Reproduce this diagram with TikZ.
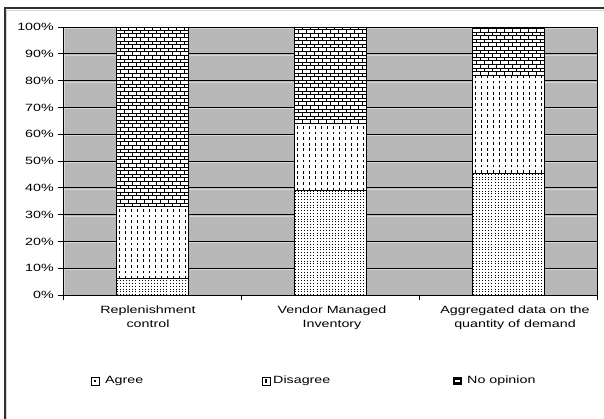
\documentclass[tikz,border=0pt]{standalone}
\usepackage{fontspec}
\newfontfamily\cf[FakeStretch=1.36]{Liberation Sans}
\definecolor{plotgrey}{HTML}{B8B8B8}
\definecolor{hlgrey}{HTML}{D6D6D6}
\definecolor{framecol}{HTML}{303030}
\newcommand\patA{%
  \foreach \k in {0,...,23} \draw[line width=0.7, dash pattern=on 0.8pt off 2pt] (\xl+1.2+3.1*\k,\ya) -- (\xl+1.2+3.1*\k,\yb);}
\newcommand\patD{%
  \foreach \k in {0,...,11} \draw[line width=0.95, dash pattern=on 2.8pt off 2.8pt] (\xl+3+6*\k,\ya) -- (\xl+3+6*\k,\yb);}
\newcommand\patN{%
  \pgfmathtruncatemacro\nr{(\ya-\yb)/3.6+1}%
  \foreach \r in {0,...,\nr} {%
    \pgfmathsetmacro\yy{\ya-3.6*\r}%
    \pgfmathsetmacro\off{mod(\r,2)*4}%
    \draw[line width=0.8] (\xl,\yy) -- (\xl+72,\yy);
    \foreach \c in {0,...,9} \draw[line width=0.8] (\xl+\off+8*\c,\yy) -- (\xl+\off+8*\c,\yy-3.6);
  }}
\newcommand\chartseg[4]{%
  \def\xl{#1}%
  \pgfmathsetmacro\ya{295-2.68*#2}%
  \pgfmathsetmacro\yb{295-2.68*#3}%
  \begin{scope}
    \clip (\xl,\yb) rectangle (\xl+72,\ya);
    \fill[white] (\xl,\yb) rectangle (\xl+72,\ya);
    \csname pat#4\endcsname
  \end{scope}
  \draw[line width=0.9] (\xl,\yb) rectangle (\xl+72,\ya);}
\begin{document}
\begin{tikzpicture}[x=1pt,y=-1pt,
  lab/.style={font=\cf\fontsize{10.5}{14}\selectfont, inner sep=0pt, text=black},
  grid/.style={line width=0.9, black},
  hl/.style={line width=1, hlgrey}]
\useasboundingbox (0,0) rectangle (604,418);
\fill[white] (0,0) rectangle (604,418);
\draw[framecol, line width=1.2] (5,420) -- (5,8) -- (606,8);
\draw[hlgrey, line width=0.8] (6.5,420) -- (6.5,10) -- (606,10);
% plot area
\fill[plotgrey] (63,27) rectangle (597,295);
\foreach \i in {0,...,9} {
  \draw[hl] (63.5,27+26.8*\i+1.4) -- (597,27+26.8*\i+1.4);
}
\draw[hl] (64.5,27) -- (64.5,295);
\foreach \i in {1,...,10} \draw[grid] (63,295-26.8*\i) -- (597,295-26.8*\i);
\draw[grid] (597,27) -- (597,295);
% bars
\chartseg{116}{0}{6}{A}
\chartseg{116}{6}{33}{D}
\chartseg{116}{33}{100}{N}
\chartseg{294}{0}{39}{A}
\chartseg{294}{39}{64}{D}
\chartseg{294}{64}{100}{N}
\chartseg{472}{0}{45.5}{A}
\chartseg{472}{45.5}{82}{D}
\chartseg{472}{82}{100}{N}
% axes
\draw[grid] (63,27) -- (63,295) -- (597,295);
\foreach \i in {0,...,10} \draw[grid] (58,295-26.8*\i) -- (63,295-26.8*\i);
\foreach \x in {63,241,419,597} \draw[grid] (\x,295) -- (\x,300);
% tick labels
\foreach \v [count=\i from 0] in {0,10,...,100}
  \node[lab, anchor=east] (tick\i) at (54,295-26.8*\i) {\v\%};
% category labels
\node[lab, align=center, anchor=north] (c1) at (148,306) {Replenishment\\control};
\node[lab, align=center, anchor=north] (c2) at (332,306) {Vendor Managed\\Inventory};
\node[lab, align=center, anchor=north] (c3) at (515,306) {Aggregated data on the\\quantity of demand};
% legend
\draw[line width=0.8] (91,377) rectangle (99,385);
\fill (94.2,380.2) rectangle (95.8,381.8);
\node[lab, anchor=west] (lA) at (105,381) {Agree};
\draw[line width=0.8] (262,377) rectangle (270,385);
\fill (265.3,379) rectangle (266.7,383);
\node[lab, anchor=west] (lD) at (273,381) {Disagree};
\fill (453,377) rectangle (462,385);
\fill[white] (455,380.2) rectangle (460,381.8);
\node[lab, anchor=west] (lN) at (467,381) {No opinion};
\end{tikzpicture}
\end{document}
